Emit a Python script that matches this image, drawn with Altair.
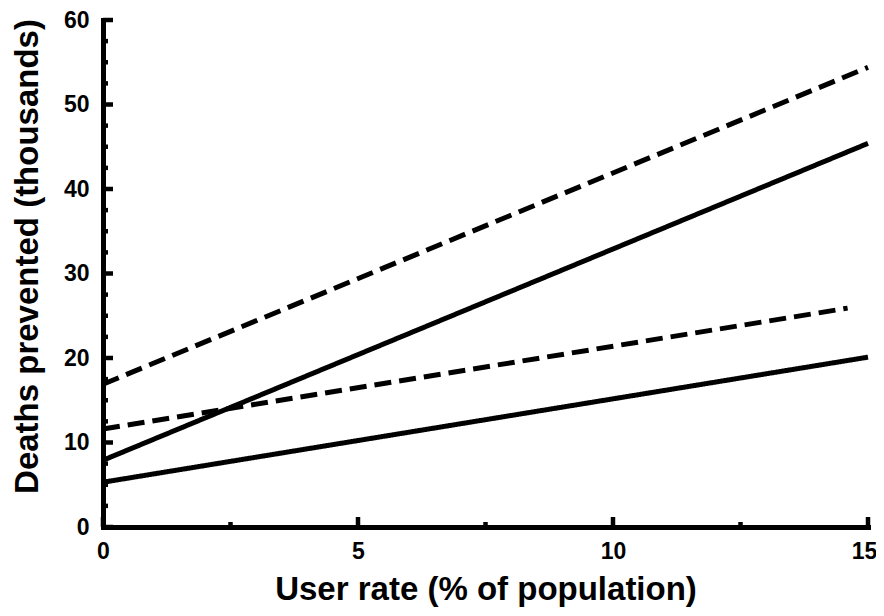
import altair as alt
import pandas as pd

# Line data (endpoints)
series = ["A", "A", "B", "B", "C", "C", "D", "D"]
styles = ["dashed", "dashed", "solid", "solid", "dashed", "dashed", "solid", "solid"]
user_rate = [0, 15, 0, 15, 0, 14.6, 0, 15]
deaths = [16.9, 54.4, 7.9, 45.4, 11.6, 25.9, 5.3, 20.1]

x_major = [0, 5, 10, 15]
x_minor = [2.5, 7.5, 12.5]
y_major = [0, 10, 20, 30, 40, 50, 60]
y_minor = [2.5, 5, 7.5, 12.5, 15, 17.5, 22.5, 25, 27.5, 32.5, 35, 37.5,
           42.5, 45, 47.5, 52.5, 55, 57.5]

W, H = 765, 507
FONT = "Liberation Sans"

df = pd.DataFrame({"series": series, "style": styles, "x": user_rate, "y": deaths})

xs = alt.Scale(domain=[0, 15], nice=False, zero=False)
ys = alt.Scale(domain=[0, 60], nice=False, zero=False)

lines = alt.Chart(df).mark_line(color="black", strokeWidth=5, strokeCap="butt").encode(
    x=alt.X("x:Q", scale=xs, title="User rate (% of population)",
            axis=alt.Axis(values=x_major, format="d",
                          labelOffset=alt.ConditionalAxisNumber(
                              condition={"test": "datum.value == 15", "value": -4},
                              value=0))),
    y=alt.Y("y:Q", scale=ys, title="Deaths prevented (thousands)",
            axis=alt.Axis(values=y_major, format="d", titleY=236)),
    detail="series:N",
    strokeDash=alt.StrokeDash("style:N", scale=alt.Scale(domain=["solid", "dashed"],
                                                          range=[[1, 0], [17, 8]]),
                              legend=None),
)

def yt(vals, length):
    return alt.Chart(pd.DataFrame({"v": vals})).mark_rule(
        color="black", strokeWidth=4.5, strokeCap="butt").encode(
        y=alt.Y("v:Q", scale=ys), x=alt.value(0), x2=alt.value(length))

def xt(vals, length):
    return alt.Chart(pd.DataFrame({"v": vals})).mark_rule(
        color="black", strokeWidth=4.5, strokeCap="butt").encode(
        x=alt.X("v:Q", scale=xs), y=alt.value(H), y2=alt.value(H - length))

chart = alt.layer(
    yt(y_major, 10), yt(y_minor, 5), xt(x_major, 10), xt(x_minor, 5), lines
).properties(
    width=W, height=H,
    autosize=alt.AutoSizeParams(type="none"),
    padding={"left": 95, "top": 12, "right": 8, "bottom": 81},
).configure_view(stroke=None).configure_axis(
    grid=False, ticks=False, domainColor="black", domainWidth=5, domainCap="square",
    labelFlush=False,
    labelFont=FONT, labelFontWeight="bold", labelFontSize=23, labelColor="black",
    titleFont=FONT, titleFontWeight="bold", titleFontSize=33, titleColor="black",
).configure_axisX(labelPadding=13, titlePadding=10).configure_axisY(
    labelPadding=14, titlePadding=19)

chart.save("out.html", embed_options={"renderer": "svg", "actions": False})
